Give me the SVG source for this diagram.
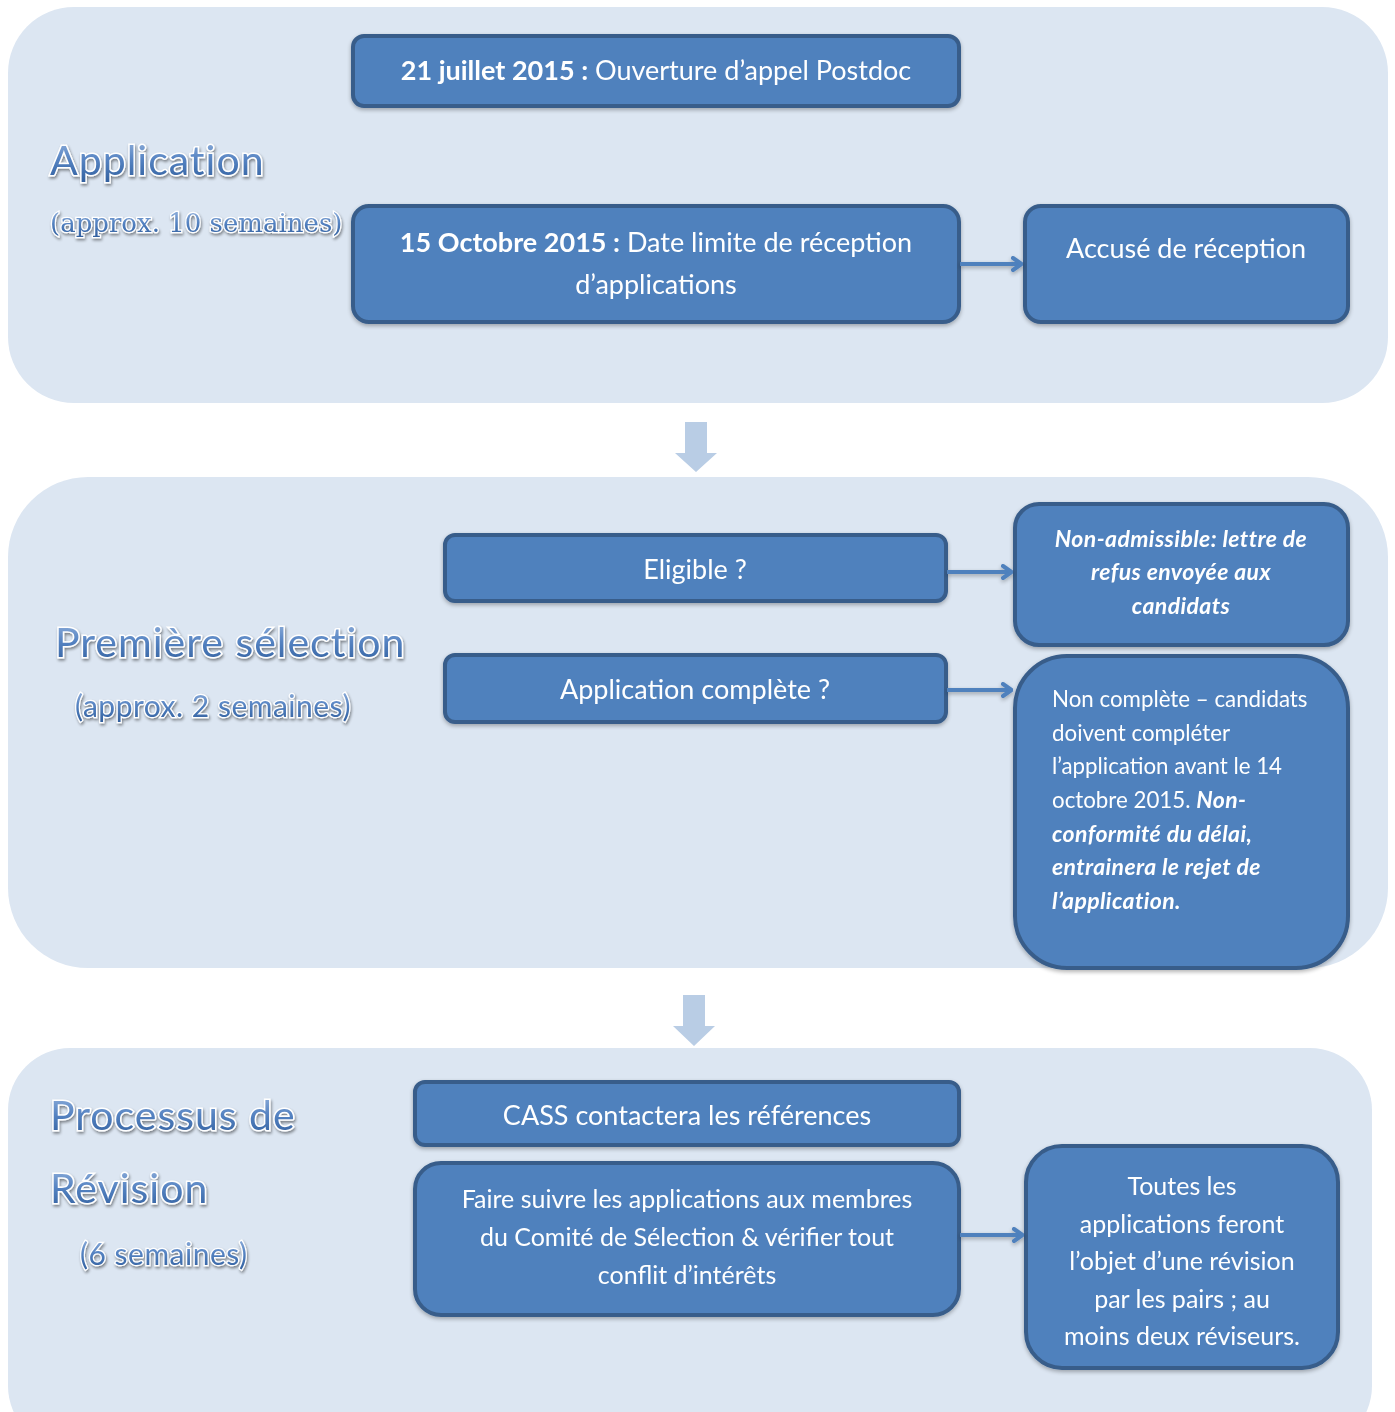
<svg xmlns="http://www.w3.org/2000/svg" width="1395" height="1412" viewBox="0 0 1395 1412">
<defs>
<linearGradient id="tg" x1="0" y1="0" x2="0" y2="1">
<stop offset="0" stop-color="#9db9e0"/>
<stop offset="0.5" stop-color="#5583c2"/>
<stop offset="1" stop-color="#2f5d9c"/>
</linearGradient>
<filter id="ts" x="-10%" y="-30%" width="120%" height="160%">
<feGaussianBlur in="SourceAlpha" stdDeviation="1.5"/>
<feOffset dx="1" dy="2" result="b"/>
<feComponentTransfer><feFuncA type="linear" slope="0.45"/></feComponentTransfer>
<feMerge><feMergeNode/><feMergeNode in="SourceGraphic"/></feMerge>
</filter>
<filter id="bs" x="-10%" y="-10%" width="120%" height="130%">
<feGaussianBlur in="SourceAlpha" stdDeviation="2"/>
<feOffset dx="0" dy="2"/>
<feComponentTransfer><feFuncA type="linear" slope="0.3"/></feComponentTransfer>
<feMerge><feMergeNode/><feMergeNode in="SourceGraphic"/></feMerge>
</filter>
<marker id="ah" viewBox="0 0 12 16" refX="11" refY="8" markerWidth="12" markerHeight="16" markerUnits="userSpaceOnUse" orient="auto">
<path d="M2 2 L10.5 8 L2 14" fill="none" stroke="#4f81bd" stroke-width="4" stroke-linecap="round" stroke-linejoin="round"/>
</marker>
<style>
.panel{fill:#dce6f2}
.box{fill:#4f81bd;stroke:#385d8a;stroke-width:4}
.bt{font-family:Lato,"Open Sans",sans-serif;font-size:27px;fill:#ffffff;text-anchor:middle}
.bt2{font-family:Lato,"Open Sans",sans-serif;font-size:25px;fill:#ffffff;text-anchor:middle}
.st{font-family:Lato,"Open Sans",sans-serif;font-size:22.3px;fill:#ffffff}
.b{font-weight:bold}
.bi{font-weight:bold;font-style:italic;font-size:23px;letter-spacing:0.4px}
.title{font-family:Lato,"Open Sans",sans-serif;font-size:41px;fill:url(#tg);stroke:#ffffff;stroke-width:3;paint-order:stroke;filter:url(#ts);letter-spacing:1px}
.sub{font-family:Lato,"Open Sans",sans-serif;font-size:30px;fill:url(#tg);stroke:#ffffff;stroke-width:2.5;paint-order:stroke;filter:url(#ts);letter-spacing:0.5px}
.subs{font-family:"DejaVu Serif","Liberation Serif",serif;font-size:26px;fill:url(#tg);stroke:#ffffff;stroke-width:2.5;paint-order:stroke;filter:url(#ts)}
.conn{stroke:#4f81bd;stroke-width:4;fill:none;marker-end:url(#ah)}
.blk{fill:#b9cde5}
</style>
</defs>
<rect width="1395" height="1412" fill="#ffffff"/>

<g id="panel-application">
<rect class="panel" x="8" y="7" width="1380" height="396" rx="66"/>
<text class="title" x="50" y="175">Application</text>
<text class="subs" x="50" y="232">(approx. 10 semaines)</text>
</g>
<g id="panel-premiere">
<rect class="panel" x="8" y="477" width="1380" height="491" rx="80"/>
<text class="title" x="55" y="657">Première sélection</text>
<text class="sub" x="75" y="717">(approx. 2 semaines)</text>
</g>
<g id="panel-revision">
<rect class="panel" x="8" y="1048" width="1364" height="400" rx="62"/>
<text class="title" x="50" y="1130">Processus de</text>
<text class="title" x="50" y="1203">Révision</text>
<text class="sub" x="80" y="1265">(6 semaines)</text>
</g>

<g id="stage-arrows">
<path class="blk" d="M685 422 H707 V453 H717 L696 472 L675 453 H685 Z"/>
<path class="blk" d="M683 995 H705 V1026 H715 L694 1046 L673 1026 H683 Z"/>
</g>

<g id="n-ouverture" filter="url(#bs)">
<rect class="box" x="353" y="36" width="606" height="70" rx="11"/>
<text class="bt" x="656" y="80"><tspan class="b">21 juillet 2015 :</tspan> Ouverture d’appel Postdoc</text>
</g>
<g id="n-date-limite" filter="url(#bs)">
<rect class="box" x="353" y="206" width="606" height="116" rx="16"/>
<text class="bt" x="656" y="252"><tspan class="b">15 Octobre 2015 :</tspan> Date limite de réception</text>
<text class="bt" x="656" y="294">d’applications</text>
</g>
<g id="n-accuse" filter="url(#bs)">
<rect class="box" x="1025" y="206" width="323" height="116" rx="16"/>
<text class="bt" x="1186" y="258">Accusé de réception</text>
</g>

<g id="n-eligible" filter="url(#bs)">
<rect class="box" x="445" y="535" width="501" height="66" rx="10"/>
<text class="bt" x="695" y="579">Eligible ?</text>
</g>
<g id="n-non-admissible" filter="url(#bs)">
<rect class="box" x="1015" y="504" width="333" height="141" rx="24"/>
<text class="st bi" x="1181" y="547" text-anchor="middle">Non-admissible: lettre de</text>
<text class="st bi" x="1181" y="580" text-anchor="middle">refus envoyée aux</text>
<text class="st bi" x="1181" y="614" text-anchor="middle">candidats</text>
</g>
<g id="n-complete" filter="url(#bs)">
<rect class="box" x="445" y="655" width="501" height="67" rx="10"/>
<text class="bt" x="695" y="699">Application complète ?</text>
</g>
<g id="n-non-complete" filter="url(#bs)">
<rect class="box" x="1015" y="656" width="333" height="312" rx="52"/>
<text class="st" x="1052" y="707">Non complète – candidats</text>
<text class="st" x="1052" y="741">doivent compléter</text>
<text class="st" x="1052" y="774">l’application avant le 14</text>
<text class="st" x="1052" y="808">octobre 2015. <tspan class="bi">Non-</tspan></text>
<text class="st bi" x="1052" y="842">conformité du délai,</text>
<text class="st bi" x="1052" y="875">entrainera le rejet de</text>
<text class="st bi" x="1052" y="909">l’application.</text>
</g>

<g id="n-cass" filter="url(#bs)">
<rect class="box" x="415" y="1082" width="544" height="63" rx="10"/>
<text class="bt" x="687" y="1125">CASS contactera les références</text>
</g>
<g id="n-faire-suivre" filter="url(#bs)">
<rect class="box" x="415" y="1163" width="544" height="152" rx="26"/>
<text class="bt2" x="687" y="1208">Faire suivre les applications aux membres</text>
<text class="bt2" x="687" y="1246">du Comité de Sélection &amp; vérifier tout</text>
<text class="bt2" x="687" y="1284">conflit d’intérêts</text>
</g>
<g id="n-toutes" filter="url(#bs)">
<rect class="box" x="1026" y="1146" width="312" height="222" rx="36"/>
<text class="bt2" x="1182" y="1195">Toutes les</text>
<text class="bt2" x="1182" y="1233">applications feront</text>
<text class="bt2" x="1182" y="1270">l’objet d’une révision</text>
<text class="bt2" x="1182" y="1308">par les pairs ; au</text>
<text class="bt2" x="1182" y="1345">moins deux réviseurs.</text>
</g>

<g id="connectors" filter="url(#bs)">
<line class="conn" x1="960" y1="264" x2="1022" y2="264"/>
<line class="conn" x1="947" y1="572" x2="1012" y2="572"/>
<line class="conn" x1="947" y1="690" x2="1012" y2="690"/>
<line class="conn" x1="960" y1="1235" x2="1023" y2="1235"/>
</g>
</svg>
